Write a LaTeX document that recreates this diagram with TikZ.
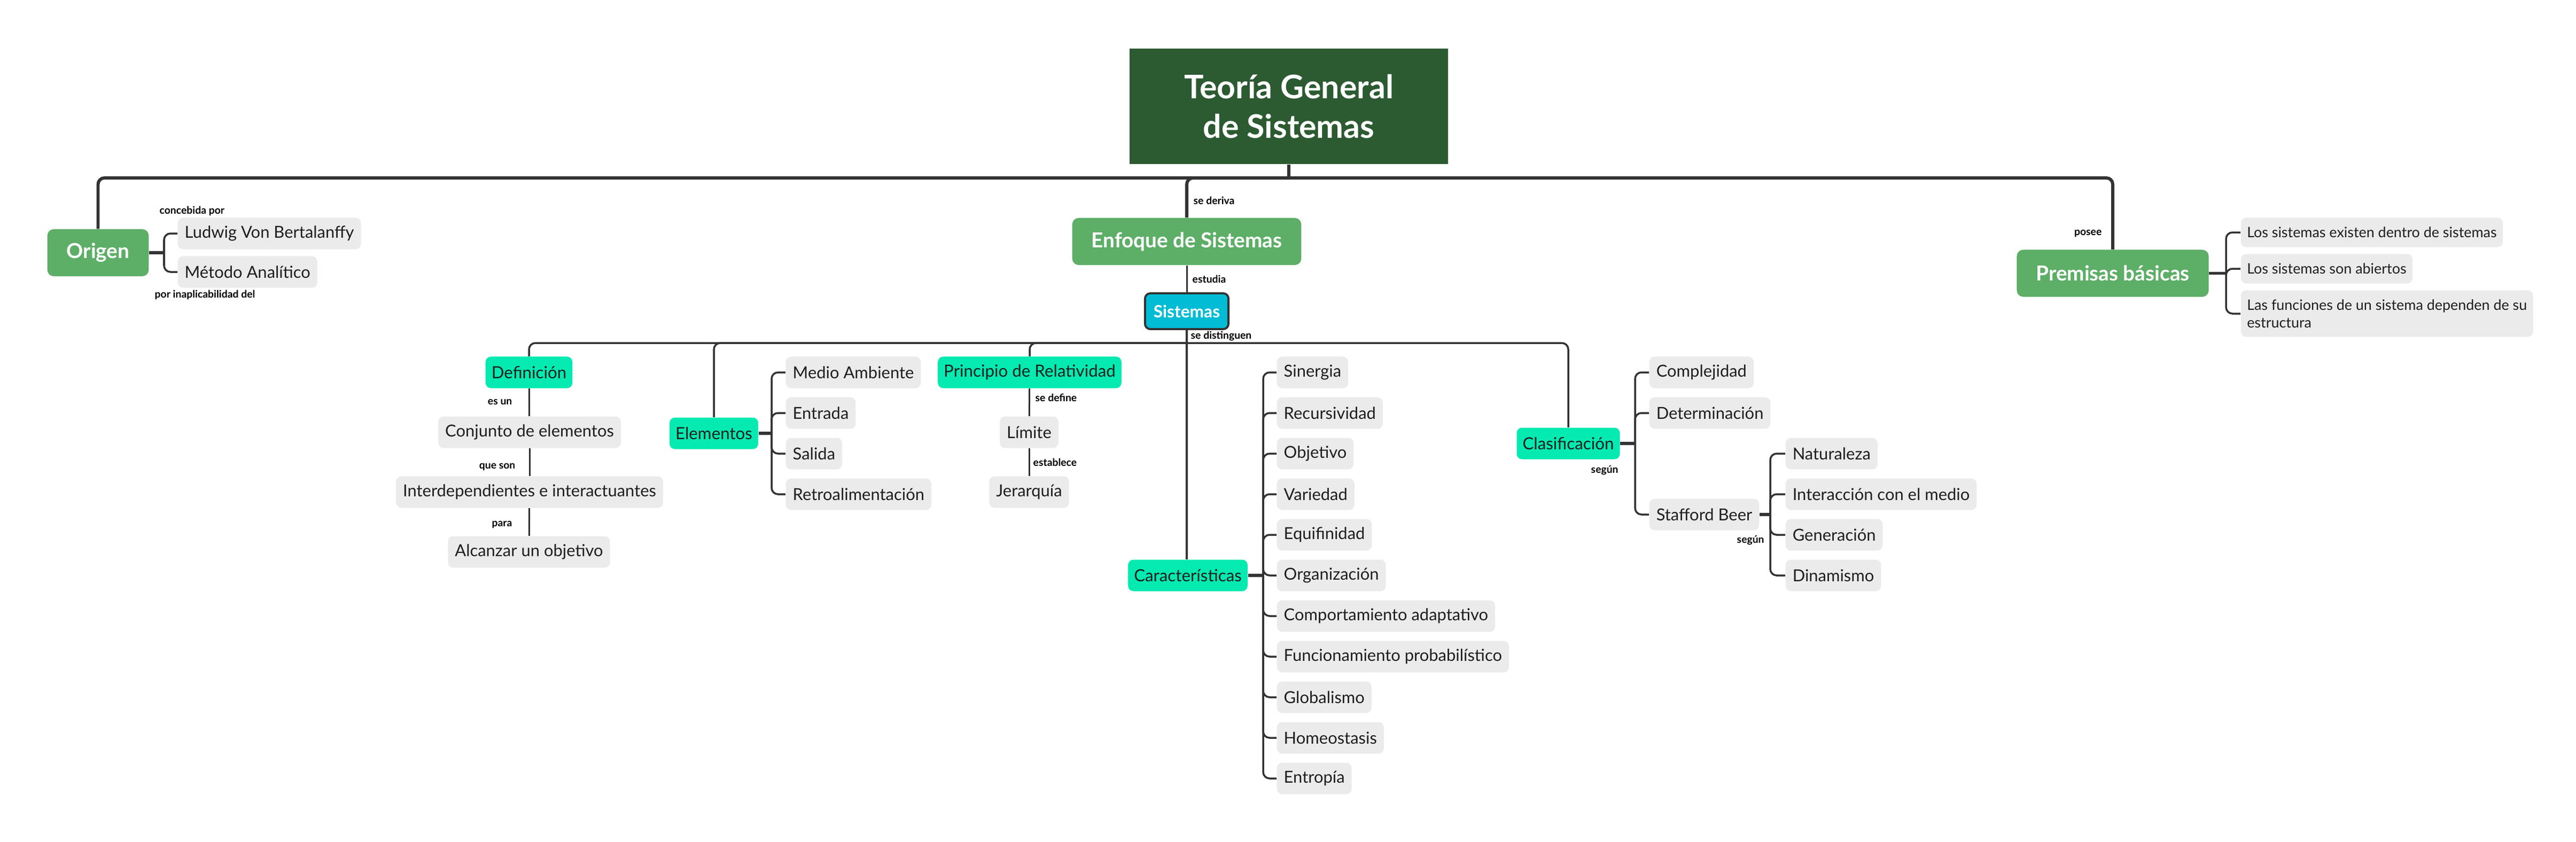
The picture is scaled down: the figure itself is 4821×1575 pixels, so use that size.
\documentclass[tikz,border=0pt]{standalone}
\usepackage{fontspec}
\setmainfont{Lato}
\definecolor{verdeosc}{HTML}{2C5A31}
\definecolor{verde}{HTML}{5DAE67}
\definecolor{aqua}{HTML}{05EAB0}
\definecolor{cian}{HTML}{00BCD4}
\definecolor{gris}{HTML}{EBEBEB}
\definecolor{linea}{HTML}{333333}
\definecolor{tinta}{HTML}{1E1E1E}
\tikzset{
  titulo/.style={fill=verdeosc, text=white, font=\fontsize{17.3}{21}\selectfont\bfseries,
    minimum width=5.96cm, minimum height=2.16cm, align=center},
  tema/.style={fill=verde, text=white, rounded corners=0.12cm,
    font=\fontsize{11}{13}\selectfont\bfseries, inner xsep=0.36cm, minimum height=0.88cm},
  sub/.style={fill=aqua, text=tinta, rounded corners=0.1cm,
    font=\fontsize{8.9}{11}\selectfont, inner xsep=0.11cm, minimum height=0.59cm},
  hoja/.style={fill=gris, text=tinta, rounded corners=0.1cm, anchor=west,
    font=\fontsize{8.8}{11}\selectfont, inner xsep=0.13cm, minimum height=0.59cm},
  hojita/.style={hoja, font=\fontsize{7.65}{9.5}\selectfont, inner xsep=0.115cm,
    minimum height=0.55cm, align=left},
  sistema/.style={fill=cian, draw=linea, line width=1.1pt, text=white, rounded corners=0.1cm,
    font=\fontsize{9}{11}\selectfont\bfseries, inner xsep=0.16cm, minimum height=0.67cm},
  etiq/.style={font=\fontsize{5.5}{6.5}\selectfont\bfseries, inner sep=0pt},
  linea1/.style={draw=linea, line width=1.7pt, rounded corners=0.12cm},
  linea2/.style={draw=linea, line width=1pt, rounded corners=0.12cm},
  cadena/.style={draw=linea, line width=0.85pt},
  tallo/.style={draw=linea, line width=1.5pt}
}
\newcommand{\hoja}[4]{\node[hoja] (#1) at (#2,#3) {#4};}
\newcommand{\rama}[2]{\draw[linea2] (#1) |- (#2.west);}
\newcommand{\etiqueta}[5]{\node[etiq, anchor=#4] (#1) at (#2,#3) {#5};}

\begin{document}
\begin{tikzpicture}[x=0.01cm, y=-0.01cm]
  \useasboundingbox (0,0) rectangle (4821,1575);

  % RAIZ
  % ====
  \node[titulo] (tgs) at (2412,199) {Teoría General\\de Sistemas};
  \coordinate (j0) at (2412,333);
  \draw[linea1] (tgs.south) -- (j0);

  % PRIMER NIVEL
  % ============
  \node[tema] (origen) at (183.5,473) {Origen};
  \node[tema] (enfoque) at (2221,452) {Enfoque de Sistemas};
  \node[tema] (premisas) at (3954,511.5) {Premisas básicas};

  \foreach \n in {origen, enfoque, premisas}
  \draw[linea1] (j0) -| (\n.north);

  \etiqueta{lderiva}{2233}{375}{west}{se deriva}
  \etiqueta{lposee}{3934}{437}{east}{posee}

  % Origen
  % ------
  \coordinate (jo) at (307,473);
  \draw[tallo] (origen.east) -- (jo);
  \hoja{ludwig}{332}{437}{Ludwig Von Bertalanffy}
  \hoja{metodo}{332}{509}{Método Analítico}
  \rama{jo}{ludwig}
  \rama{jo}{metodo}
  \etiqueta{lconcebida}{298}{395}{west}{concebida por}
  \etiqueta{linaplic}{289}{552}{west}{por inaplicabilidad del}

  % Premisas
  % --------
  \coordinate (jp) at (4166,511.5);
  \draw[tallo] (premisas.east) -- (jp);
  \node[hojita] (prem1) at (4193,435) {Los sistemas existen dentro de sistemas};
  \node[hojita] (prem2) at (4193,503) {Los sistemas son abiertos};
  \node[hojita, minimum height=0.87cm] (prem3) at (4193,587)
    {Las funciones de un sistema dependen de su\\estructura};
  \foreach \i in {1, 2, 3}{
    \rama{jp}{prem\i}
  }

  % SISTEMAS
  % ========
  \node[sistema] (sistemas) at (2221,582.5) {Sistemas};
  \draw[cadena] (enfoque.south) -- (sistemas.north);
  \etiqueta{lestudia}{2231}{522}{west}{estudia}

  \coordinate (j1) at (2221,642);
  \draw[linea2] (sistemas.south) -- (j1);
  \etiqueta{ldistinguen}{2228}{629}{west}{se distinguen}

  \node[sub] (definicion) at (990,697) {Definición};
  \node[sub] (elementos) at (1336,811) {Elementos};
  \node[sub] (principio) at (1927,697) {Principio de Relatividad};
  \node[sub] (caracteristicas) at (2223,1077) {Características};
  \node[sub] (clasificacion) at (2935,830) {Clasificación};

  \foreach \n in {definicion, elementos, principio, clasificacion}
  \draw[linea2] (j1) -| (\n.north);
  \draw[linea2] (j1) -- (caracteristicas.north -| j1);

  % Definicion y Principio
  % ----------------------
  \node[hoja, anchor=center] (conjunto) at (991,809) {Conjunto de elementos};
  \node[hoja, anchor=center] (interdep) at (991,921) {Interdependientes e interactuantes};
  \node[hoja, anchor=center] (alcanzar) at (990,1033) {Alcanzar un objetivo};
  \node[hoja, anchor=center] (limite) at (1926,809) {Límite};
  \node[hoja, anchor=center] (jerarquia) at (1926,921) {Jerarquía};

  \foreach \a/\b in {definicion/conjunto, conjunto/interdep, interdep/alcanzar,
    principio/limite, limite/jerarquia}
  \draw[cadena] (\a) -- (\b);

  \etiqueta{lesun}{959}{753}{east}{es un}
  \etiqueta{lqueson}{965}{874}{east}{que son}
  \etiqueta{lpara}{959}{982}{east}{para}
  \etiqueta{ldefine}{1937}{744}{west}{se define}
  \etiqueta{lestablece}{1933}{865}{west}{establece}

  % Elementos
  % ---------
  \coordinate (je) at (1444,811);
  \draw[tallo] (elementos.east) -- (je);
  \foreach \t [count=\i] in {Medio Ambiente, Entrada, Salida, Retroalimentación}{
    \hoja{ele\i}{1470}{621+76*\i}{\t}
    \rama{je}{ele\i}
  }

  % Caracteristicas
  % ---------------
  \coordinate (jc) at (2364,1077);
  \draw[tallo] (caracteristicas.east) -- (jc);
  \foreach \t [count=\i] in {Sinergia, Recursividad, Objetivo, Variedad, Equifinidad,
    Organización, Comportamiento adaptativo, Funcionamiento probabilístico,
    Globalismo, Homeostasis, Entropía}{
    \hoja{car\i}{2389}{621+76*\i}{\t}
    \rama{jc}{car\i}
  }

  % Clasificacion
  % -------------
  \coordinate (jl) at (3060,830);
  \draw[tallo] (clasificacion.east) -- (jl);
  \hoja{complejidad}{3086}{697}{Complejidad}
  \hoja{determinacion}{3086}{773}{Determinación}
  \hoja{stafford}{3086}{963}{Stafford Beer}
  \foreach \n in {complejidad, determinacion, stafford}{
    \rama{jl}{\n}
  }
  \etiqueta{lsegun}{2977}{880}{west}{según}

  \coordinate (js) at (3313,963);
  \draw[tallo] (stafford.east) -- (js);
  \foreach \t [count=\i] in {Naturaleza, Interacción con el medio, Generación, Dinamismo}{
    \hoja{sb\i}{3341}{773+76*\i}{\t}
    \rama{js}{sb\i}
  }
  \etiqueta{lsegunb}{3250}{1011}{west}{según}

\end{tikzpicture}
\end{document}
